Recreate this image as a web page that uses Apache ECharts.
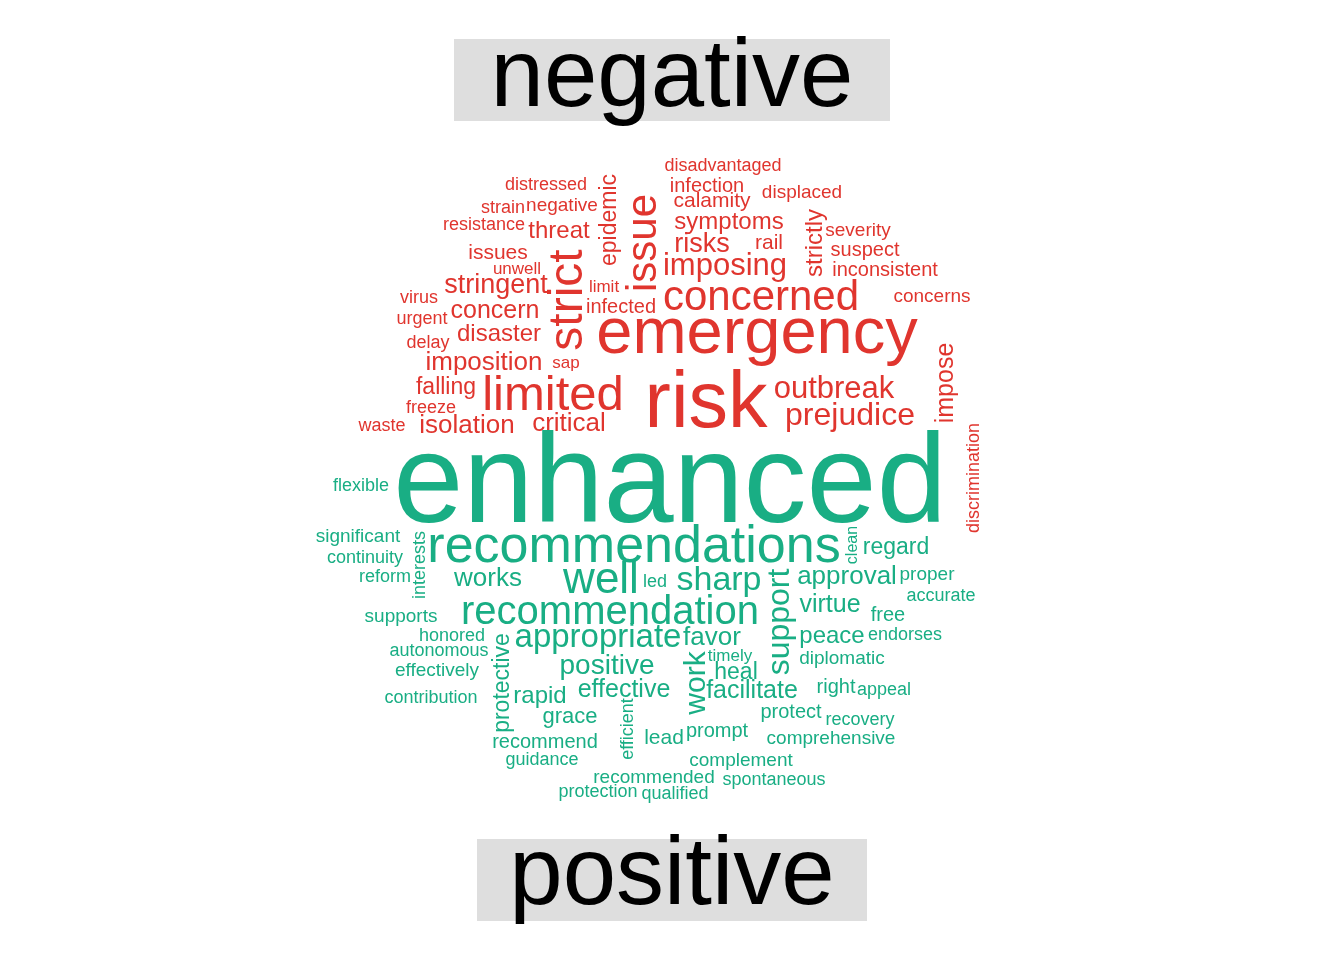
<!DOCTYPE html>
<html><head><meta charset="utf-8">
<script src="https://cdn.jsdelivr.net/npm/echarts@6/dist/echarts.min.js"></script>
<style>html,body{margin:0;padding:0;background:#fff}#c{width:1344px;height:960px}</style>
</head><body><div id="c"></div>
<script>
// word, centre x, centre y (in picture pixel units), font size, rotation
const negWords = ["disadvantaged","distressed","infection","calamity","displaced","strain","negative","epidemic","resistance","threat","symptoms","strictly","severity","issue","risks","rail","suspect","issues","unwell","imposing","inconsistent","strict","stringent","limit","virus","concerned","concerns","concern","infected","urgent","emergency","disaster","delay","imposition","sap","outbreak","impose","falling","limited","risk","freeze","prejudice","waste","isolation","critical","discrimination"];
const negX = [723,546,707,712,802,503,562,610,484,559,729,815,858,644,702,769,865,498,517,725,885,569,496,604,419,761,932,495,621,422,757,499,428,484,566,834,946,446,553,706,431,850,382,467,569,974];
const negY = [166,185,186,201,193,208,206,220,225,231,222,243,231,243,245,243,250,253,269,266,270,300,286,287,298,298,297,311,307,319,335,334,343,363,363,389,383,388,396,405,408,416,426,426,424,478];
const negSize = [18,18,20,21,19,18,19,23,18,24,24,24,19,42,27,21,20,21,17,31,20,48,27,17,18,42,19,25,20,18,65,24,18,26,17,31,25,23,49,79,18,32,18,26,26,18];
const negRot = [0,0,0,0,0,0,0,90,0,0,0,90,0,90,0,0,0,0,0,0,0,90,0,0,0,0,0,0,0,0,0,0,0,0,0,0,90,0,0,0,0,0,0,0,0,90];

const posWords = ["enhanced","flexible","significant","continuity","interests","recommendations","clean","regard","reform","works","well","led","sharp","support","approval","proper","accurate","supports","recommendation","virtue","free","honored","appropriate","favor","peace","endorses","autonomous","protective","timely","diplomatic","positive","effectively","work","heal","contribution","rapid","effective","facilitate","right","appeal","protect","grace","efficient","recovery","recommend","lead","prompt","comprehensive","guidance","complement","recommended","spontaneous","protection","qualified"];
const posX = [670,361,358,365,420,634,853,896,385,488,601,655,719,780,847,927,941,401,610,830,888,452,598,712,832,905,439,503,730,842,607,437,697,736,431,540,624,752,836,884,791,570,628,860,545,664,717,831,542,741,654,774,598,675];
const posY = [487,486,537,558,565,548,545,548,577,579,581,582,581,622,577,575,596,617,613,605,615,636,638,638,636,635,651,683,656,659,666,671,683,673,698,696,690,691,687,690,712,717,729,720,742,738,731,739,760,761,778,780,792,794];
const posSize = [126,18,19,18,18,52,16,23,18,26,44,18,34,32,26,19,18,19,40,25,20,18,33,26,24,18,18,23,17,19,28,19,30,23,18,24,25,25,20,18,20,22,18,18,20,21,20,19,18,19,19,18,18,18];
const posRot = [0,0,0,0,90,0,90,0,0,0,0,0,0,90,0,0,0,0,0,0,0,0,0,0,0,0,0,90,0,0,0,0,90,0,0,0,0,0,0,0,0,0,90,0,0,0,0,0,0,0,0,0,0,0];

const RED = '#E0352E', GREEN = '#19AE84';
function build(words, xs, ys, sizes, rots, color){
  return words.map((w,i)=>({
    value:[xs[i], ys[i]], name:w,
    itemStyle:{opacity:1,color:'rgba(0,0,0,0)'},
    label:{show:true, position:'inside', formatter:w, color:color, opacity:1,
      fontSize:sizes[i], rotate:rots[i], fontFamily:'Liberation Sans, Arial, sans-serif',
      align:'center', verticalAlign:'middle'}
  }));
}
const chart = echarts.init(document.getElementById('c'));
chart.setOption({
  animation:false,
  grid:{left:0,top:0,width:1344,height:960},
  xAxis:{type:'value',min:0,max:1344,show:false},
  yAxis:{type:'value',min:0,max:960,inverse:true,show:false},
  graphic:[
    {type:'rect',shape:{x:454,y:39,width:436,height:82},style:{fill:'#DEDEDE'}},
    {type:'text',x:672,y:80,style:{text:'negative',fontSize:96,fontFamily:'Liberation Sans, Arial',fill:'#000',align:'center',verticalAlign:'middle'}},
    {type:'rect',shape:{x:477,y:839,width:390,height:82},style:{fill:'#DEDEDE'}},
    {type:'text',x:672,y:878,style:{text:'positive',fontSize:96,fontFamily:'Liberation Sans, Arial',fill:'#000',align:'center',verticalAlign:'middle'}}
  ],
  series:[
    {type:'scatter',symbolSize:1,itemStyle:{opacity:1},emphasis:{disabled:true},data:build(negWords,negX,negY,negSize,negRot,RED)},
    {type:'scatter',symbolSize:1,itemStyle:{opacity:1},emphasis:{disabled:true},data:build(posWords,posX,posY,posSize,posRot,GREEN)}
  ]
});
</script></body></html>
